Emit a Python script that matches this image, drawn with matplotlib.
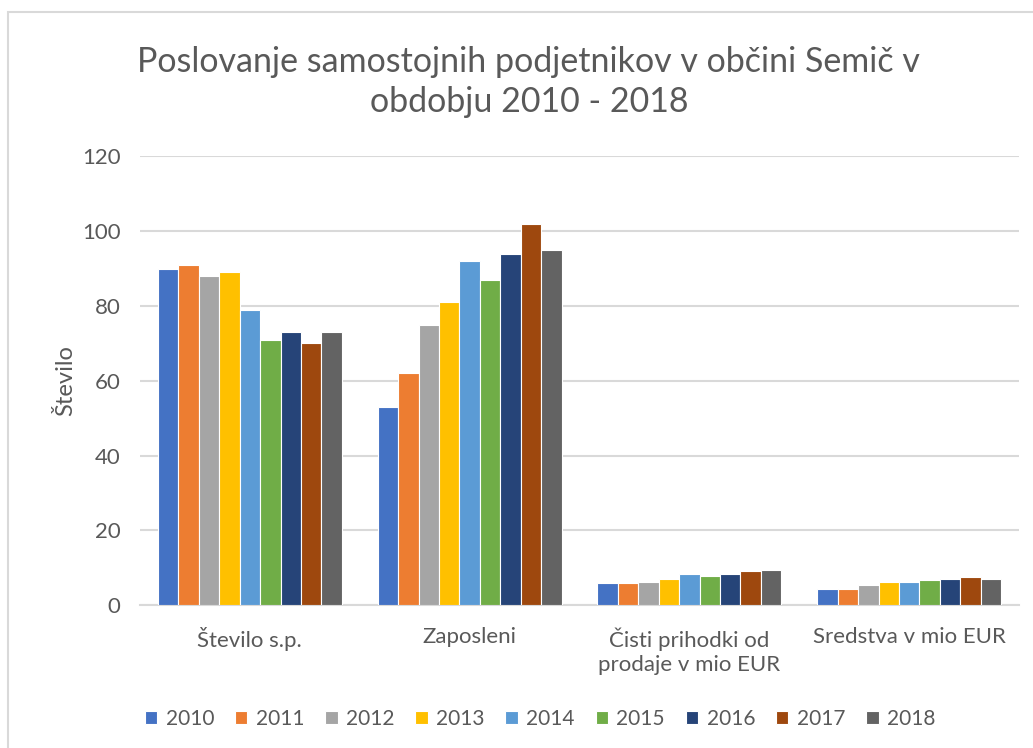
import matplotlib.pyplot as plt
import numpy as np
from matplotlib.patches import Rectangle

# Data
categories = ["Število s.p.", "Zaposleni", "Čisti prihodki od\nprodaje v mio EUR", "Sredstva v mio EUR"]
years = ["2010", "2011", "2012", "2013", "2014", "2015", "2016", "2017", "2018"]
stevilo_sp = [90, 91, 88, 89, 79, 71, 73, 70, 73]
zaposleni = [53, 62, 75, 81, 92, 87, 94, 102, 95]
prihodki = [5.8, 5.8, 6.1, 7.1, 8.2, 7.8, 8.2, 9.2, 9.5]
sredstva = [4.4, 4.4, 5.4, 6.1, 6.1, 6.8, 7.1, 7.4, 7.1]
colors = ["#4472C4", "#ED7D31", "#A5A5A5", "#FFC000", "#5B9BD5",
          "#70AD47", "#264478", "#9E480E", "#636363"]

values = np.array([stevilo_sp, zaposleni, prihodki, sredstva])  # category x year

plt.rcParams['font.family'] = ['Lato', 'DejaVu Sans']
text_col = "#595959"

fig = plt.figure(figsize=(10.33, 7.48), dpi=100)
# light chart-area border
fig.patches.append(Rectangle((8 / 1033, -0.1), 1.2, 1 - 12 / 748 + 0.1,
                             transform=fig.transFigure, fill=False,
                             edgecolor="#d9d9d9", linewidth=1.5))

ax = fig.add_axes([0.1355, 0.191, 0.851, 0.6])

x = np.arange(len(categories))
slot = 0.093
for i, year in enumerate(years):
    offs = (i - (len(years) - 1) / 2) * slot
    ax.bar(x + offs, values[:, i], width=slot, color=colors[i],
           edgecolor="white", linewidth=0.8, label=year, zorder=3)

ax.set_ylim(0, 120)
ax.set_yticks(range(0, 121, 20))
ax.set_xlim(-0.5, len(categories) - 0.5)
ax.set_xticks(x)
ax.set_xticklabels(categories, linespacing=1.25)
ax.grid(axis='y', color="#d9d9d9", linewidth=1.5, zorder=0)
for s in ["top", "right", "left"]:
    ax.spines[s].set_visible(False)
ax.spines["bottom"].set_color("#d9d9d9")
ax.spines["bottom"].set_linewidth(1.5)
ax.tick_params(length=0, colors=text_col, labelsize=16)
ax.tick_params(axis='x', pad=16)
ax.tick_params(axis='y', pad=14)
ax.set_ylabel("Število", color=text_col, fontsize=17, labelpad=4)

fig.suptitle("Poslovanje samostojnih podjetnikov v občini Semič v\nobdobju 2010 - 2018",
             x=0.512, y=0.938, color=text_col, fontsize=24.5, linespacing=1.3)

ax.legend(loc="upper center", bbox_to_anchor=(0.455, -0.19), ncol=9,
          frameon=False, fontsize=15, handlelength=0.6, handleheight=0.6,
          handletextpad=0.4, columnspacing=1.0, labelcolor=text_col)

fig.savefig("out.png", dpi=100)
